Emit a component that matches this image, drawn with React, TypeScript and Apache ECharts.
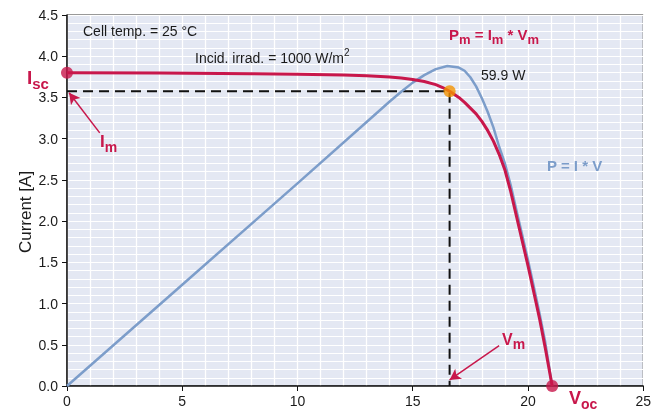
import React, { useEffect, useRef } from "react";
import * as echarts from "echarts";

// I-V curve (voltage V, current A)
const voltage = [0, 4, 8, 10, 12, 13, 14, 14.5, 15, 15.5, 16, 16.3, 16.6, 17, 17.25, 17.5, 17.75, 18, 18.25, 18.5, 18.75, 19, 19.25, 19.5, 19.75, 20, 20.25, 20.5, 20.75, 21.05];
const current = [3.8, 3.795, 3.787, 3.782, 3.772, 3.762, 3.747, 3.735, 3.717, 3.693, 3.655, 3.62, 3.575, 3.5, 3.44, 3.37, 3.3, 3.21, 3.1, 2.97, 2.81, 2.62, 2.36, 2.06, 1.76, 1.46, 1.14, 0.82, 0.46, 0];

// Power curve (voltage V, power W)
const powerVoltage = [0, 5, 10, 13, 14, 14.5, 15, 15.5, 16, 16.5, 17, 17.25, 17.5, 17.75, 18, 18.25, 18.5, 18.75, 19, 19.25, 19.5, 19.75, 20, 20.25, 20.5, 20.75, 21.05];
const powerWatts = [0, 18.8, 37.6, 49.0, 52.8, 54.6, 56.3, 57.7, 58.8, 59.4, 59.1, 58.5, 57.3, 55.6, 53.4, 50.9, 48.0, 44.4, 41.3, 37.3, 32.6, 28.0, 23.4, 18.5, 13.5, 8.1, 0];

// Key points
const ISC = 3.8;
const VOC = 21.05;
const VM = 16.6;
const IM = 3.575;
const PMAX_LABEL = "59.9 W";

// Axis ticks
const xTicks = { min: 0, max: 25, interval: 5 };
const yTicks = { min: 0, max: 4.5, interval: 0.5 };
const POWER_SCALE = 15.3; // W per A on the shared vertical scale

const RED = "#c8174b";
const BLUE = "#7c9dca";
const ORANGE = "#f39200";
const FONT = "Liberation Sans, Arial, sans-serif";

export default function App() {
  const ref = useRef<HTMLDivElement>(null);
  useEffect(() => {
    if (!ref.current) return;
    const chart = echarts.init(ref.current, null, { renderer: "svg" });
    const ivData = voltage.map((v, i) => [v, current[i]]);
    const pData = powerVoltage.map((v, i) => [v, powerWatts[i]]);
    const subText = (
      x: number,
      y: number,
      parts: { t: string; sub?: boolean; sup?: boolean }[],
      color: string,
      base: number,
      small: number,
      bold: boolean
    ) => {
      const rich: any = {
        b: { fontSize: base, fontWeight: bold ? "bold" : "normal", color, fontFamily: FONT, lineHeight: base + 8, verticalAlign: "middle" },
        s: { fontSize: small, fontWeight: bold ? "bold" : "normal", color, fontFamily: FONT, lineHeight: small, verticalAlign: "bottom" },
        p: { fontSize: small, fontWeight: bold ? "bold" : "normal", color, fontFamily: FONT, lineHeight: small, verticalAlign: "top" },
      };
      const text = parts.map((p) => `{${p.sub ? "s" : p.sup ? "p" : "b"}|${p.t}}`).join("");
      return {
        type: "text",
        x,
        y,
        style: { text, rich, fill: color, font: `${base}px ${FONT}`, textAlign: "left", textVerticalAlign: "middle" },
        z: 100,
      };
    };
    const plainText = (x: number, y: number, text: string, font: string, fill: string, extra: any = {}) => ({
      type: "text",
      x,
      y,
      z: 100,
      ...extra,
      style: { text, fill, font, textAlign: "left", textVerticalAlign: "middle", ...(extra.style || {}) },
    });

    chart.setOption({
      animation: false,
      grid: {
        left: 67,
        right: 6,
        top: 15,
        bottom: 26,
        show: true,
        backgroundColor: "#e4e8f3",
        borderColor: "#333",
        borderWidth: 1,
      },
      xAxis: {
        type: "value",
        min: xTicks.min,
        max: xTicks.max,
        interval: xTicks.interval,
        axisLine: { show: true, onZero: false, lineStyle: { color: "#111", width: 1.5 } },
        axisTick: { show: true, length: 5, lineStyle: { color: "#111" } },
        axisLabel: { color: "#1a1a1a", fontSize: 14, fontFamily: FONT, margin: 8 },
        splitLine: { show: true, lineStyle: { color: "#ffffff", width: 1.3 } },
        minorTick: { show: false, splitNumber: 5 },
        minorSplitLine: { show: true, lineStyle: { color: "#ffffff", width: 1.3 } },
      },
      yAxis: [
        {
          type: "value",
          min: yTicks.min,
          max: yTicks.max,
          interval: yTicks.interval,
          axisLine: { show: true, lineStyle: { color: "#111", width: 1.5 } },
          axisTick: { show: true, length: 5, lineStyle: { color: "#111" } },
          axisLabel: {
            color: "#1a1a1a",
            fontSize: 14,
            fontFamily: FONT,
            margin: 9,
            formatter: (v: number) => v.toFixed(1),
          },
          splitLine: { show: true, lineStyle: { color: "#ffffff", width: 1.2 } },
          minorTick: { show: false, splitNumber: 5 },
          minorSplitLine: { show: true, lineStyle: { color: "#ffffff", width: 1.2 } },
        },
        {
          type: "value",
          min: 0,
          max: yTicks.max * POWER_SCALE,
          show: false,
          splitLine: { show: false },
        },
      ],
      series: [
        {
          type: "line",
          data: [
            [0, IM],
            [VM, IM],
            [VM, 0],
          ],
          symbol: "none",
          silent: true,
          lineStyle: { color: "#111", width: 2, type: [10, 6] },
          z: 2,
          markLine: {
            silent: true,
            symbol: ["none", "arrow"],
            symbolSize: [9, 11],
            label: { show: false },
            lineStyle: { color: RED, width: 1.5, type: "solid" },
            data: [
              [{ coord: [1.42, 3.07] }, { coord: [0.09, 3.556] }],
              [{ coord: [18.75, 0.49] }, { coord: [16.6, 0.073] }],
            ],
          },
        },
        {
          type: "line",
          yAxisIndex: 1,
          data: pData,
          symbol: "none",
          smooth: false,
          lineStyle: { color: BLUE, width: 2.5, join: "round" },
          z: 3,
        },
        {
          type: "line",
          data: ivData,
          symbol: "none",
          smooth: false,
          lineStyle: { color: RED, width: 3, join: "round" },
          z: 4,
        },
        {
          type: "scatter",
          data: [
            [0, ISC],
            [VOC, 0],
          ],
          symbolSize: 12,
          itemStyle: { color: RED },
          z: 5,
        },
        {
          type: "scatter",
          data: [[VM, IM]],
          symbolSize: 12,
          itemStyle: { color: ORANGE },
          z: 6,
        },
      ],
      graphic: [
        plainText(25, 212, "Current [A]", `17px ${FONT}`, "#1a1a1a", {
          rotation: Math.PI / 2,
          style: { textAlign: "center" },
        }),
        plainText(83, 31, "Cell temp. = 25 °C", `14px ${FONT}`, "#1a1a1a"),
        subText(195, 58, [{ t: "Incid. irrad. = 1000 W/m" }, { t: "2", sup: true }], "#1a1a1a", 14, 10, false),
        plainText(481, 75, PMAX_LABEL, `14px ${FONT}`, "#1a1a1a"),
        subText(449, 34, [{ t: "P" }, { t: "m", sub: true }, { t: " = I" }, { t: "m", sub: true }, { t: " * V" }, { t: "m", sub: true }], RED, 15, 13, true),
        plainText(547, 165, "P = I * V", `bold 15px ${FONT}`, BLUE),
        subText(27, 77, [{ t: "I" }, { t: "sc", sub: true }], RED, 19, 15, true),
        subText(100, 141, [{ t: "I" }, { t: "m", sub: true }], RED, 17, 14, true),
        subText(502, 339, [{ t: "V" }, { t: "m", sub: true }], RED, 16, 14, true),
        subText(569, 398, [{ t: "V" }, { t: "oc", sub: true }], RED, 18, 14, true),
      ],
    });
    return () => chart.dispose();
  }, []);
  return <div ref={ref} style={{ position: "fixed", left: 0, top: 0, width: 654, height: 412 }} />;
}
